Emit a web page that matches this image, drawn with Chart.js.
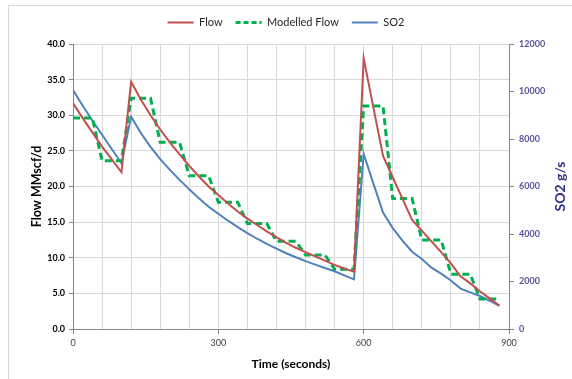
<!DOCTYPE html>
<html>
<head>
<meta charset="utf-8">
<script src="https://cdn.jsdelivr.net/npm/chart.js@4/dist/chart.umd.min.js"></script>
<style>
  html, body { margin: 0; padding: 0; background: #ffffff; }
  #wrap { position: relative; width: 572px; height: 379px; overflow: hidden; }
  #frame { position: absolute; left: 8px; top: 5px; width: 600px; height: 400px; border: 1px solid #d9d9d9; box-sizing: border-box; }
  canvas { position: absolute; left: 0; top: 0; }
</style>
</head>
<body>
<div id="wrap">
  <div id="frame"></div>
  <canvas id="c" width="572" height="379"></canvas>
</div>
<script>
// Time in seconds
const times = [0,20,40,60,80,100,120,140,160,180,200,220,240,260,280,300,320,340,360,380,400,420,440,460,480,500,520,540,560,580,600,620,640,660,680,700,720,740,760,780,800,820,840,860,880];
// Flow MMscf/d
const flow = [31.7,29.6,27.6,25.6,23.8,22.0,
  34.7,32.2,30.0,28.0,26.2,24.5,22.9,21.4,20.0,18.8,17.6,16.5,15.5,14.6,13.7,12.9,12.1,11.4,10.8,10.2,9.6,9.0,8.5,8.05,
  38.0,31.1,24.3,21.3,18.3,15.3,13.8,12.3,10.8,9.2,7.4,6.4,5.3,4.3,3.3];
// Modelled Flow MMscf/d
const modelledFlow = [29.6,29.6,29.6,23.6,23.6,23.6,32.4,32.4,32.4,26.2,26.2,26.2,21.5,21.5,21.5,17.8,17.8,17.8,14.8,14.8,14.8,12.3,12.3,12.3,10.4,10.4,10.4,8.4,8.4,8.4,31.3,31.3,31.3,18.3,18.3,18.3,12.5,12.5,12.5,7.7,7.7,7.7,4.2,4.2,4.2];
// SO2 g/s
const so2 = [10060,9400,8780,8180,7580,6980,
  8940,8250,7670,7150,6700,6280,5880,5500,5150,4850,4560,4290,4040,3800,3580,3380,3190,3020,2860,2710,2570,2430,2260,2090,
  7370,6130,4900,4250,3720,3255,2950,2580,2330,2040,1700,1540,1390,1190,970];

const seriesNames = ['Flow', 'Modelled Flow', 'SO2'];
const xLabelTicks = [0, 300, 600, 900];

const toXY = arr => arr.map((v, i) => ({ x: times[i], y: v }));
const FONT = 'Lato, "Liberation Sans", sans-serif';

const rightTitle = {
  id: 'rightTitle',
  afterDraw(chart) {
    const { ctx, chartArea } = chart;
    ctx.save();
    ctx.translate(560, (chartArea.top + chartArea.bottom) / 2);
    ctx.rotate(-Math.PI / 2);
    ctx.fillStyle = '#2f2f8c';
    ctx.font = 'bold 14px ' + FONT;
    ctx.textAlign = 'center';
    ctx.textBaseline = 'middle';
    ctx.fillText('SO2 g/s', 0, 0);
    ctx.restore();
  }
};

// keep the legend band a fixed height so the plot starts where the reference's does
const legendHeight = {
  id: 'legendHeight',
  beforeUpdate(chart) {
    const lg = chart.legend;
    if (lg && !lg._fixedFit) {
      const orig = lg.fit.bind(lg);
      lg.fit = function () { orig(); this.height = 40; };
      lg._fixedFit = true;
    }
  }
};

new Chart(document.getElementById('c'), {
  type: 'line',
  data: {
    datasets: [
      { label: seriesNames[0], data: toXY(flow), borderColor: '#c0504d', backgroundColor: '#c0504d', borderWidth: 2, pointRadius: 0, yAxisID: 'y', tension: 0 },
      { label: seriesNames[1], data: toXY(modelledFlow), borderColor: '#00b050', backgroundColor: '#00b050', borderWidth: 3, borderDash: [7, 4], pointRadius: 0, yAxisID: 'y', tension: 0 },
      { label: seriesNames[2], data: toXY(so2), borderColor: '#4f81bd', backgroundColor: '#4f81bd', borderWidth: 2, pointRadius: 0, yAxisID: 'y2', tension: 0 }
    ]
  },
  options: {
    responsive: false,
    animation: false,
    devicePixelRatio: 1,
    layout: { padding: { top: 4, left: 0, right: 0, bottom: 0 } },
    plugins: {
      tooltip: { enabled: false },
      legend: {
        position: 'top',
        labels: {
          usePointStyle: true,
          pointStyle: 'line',
          pointStyleWidth: 26,
          padding: 13,
          color: '#262626',
          font: { family: FONT, size: 11 },
          generateLabels(chart) {
            const items = Chart.defaults.plugins.legend.labels.generateLabels(chart);
            items.forEach(it => {
              const ds = chart.data.datasets[it.datasetIndex];
              it.lineDash = ds.borderDash ? [5, 3] : [];
              it.lineWidth = ds.borderWidth;
              it.strokeStyle = ds.borderColor;
            });
            return items;
          }
        }
      }
    },
    scales: {
      x: {
        type: 'linear',
        min: 0, max: 900,
        afterFit(s) { s.height = 50; },
        ticks: {
          stepSize: 60, autoSkip: false, maxRotation: 0, padding: 4,
          color: '#404040', font: { family: FONT, size: 9 },
          callback: v => xLabelTicks.includes(v) ? String(v) : ''
        },
        grid: {
          color: '#d9d9d9', tickLength: 5,
          tickColor: ctx => (ctx.tick && xLabelTicks.includes(ctx.tick.value)) ? '#868686' : 'rgba(0,0,0,0)'
        },
        border: { color: '#868686', width: 1 },
        title: { display: true, text: 'Time (seconds)', color: '#000000', font: { family: FONT, size: 12, weight: 'bold' }, padding: { top: 0, bottom: 8 } }
      },
      y: {
        position: 'left',
        min: 0, max: 40,
        afterFit(s) { s.width = 73; },
        ticks: { stepSize: 5, padding: 4, color: '#000000', font: { family: FONT, size: 9, weight: 'bold' }, callback: v => v.toFixed(1) },
        grid: { color: '#d9d9d9', tickLength: 4, tickColor: '#868686' },
        border: { color: '#868686', width: 1 },
        title: { display: true, text: 'Flow MMscf/d', color: '#000000', font: { family: FONT, size: 12.5, weight: 'bold' }, padding: { top: 29, bottom: 0 } }
      },
      y2: {
        position: 'right',
        min: 0, max: 12000,
        afterFit(s) { s.width = 63; },
        ticks: { stepSize: 2000, padding: 5, color: '#55559a', font: { family: FONT, size: 9, weight: 'bold' }, callback: v => String(v) },
        grid: { drawOnChartArea: false, tickLength: 5, tickColor: '#868686' },
        border: { color: '#868686', width: 1 }
      }
    }
  },
  plugins: [rightTitle, legendHeight]
});
</script>
</body>
</html>
